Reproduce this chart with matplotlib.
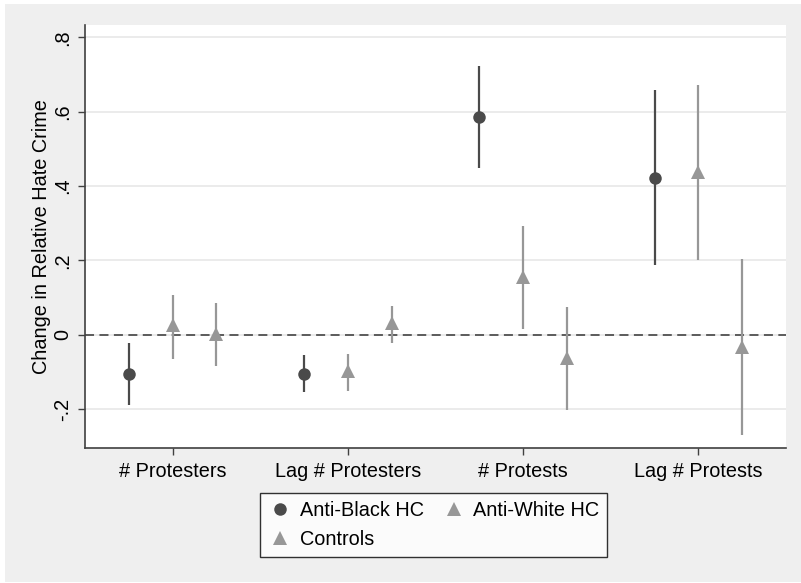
import numpy as np
import matplotlib
matplotlib.use('Agg')
import matplotlib.pyplot as plt
from matplotlib.patches import Rectangle

plt.rcParams['font.family'] = ['Liberation Sans', 'DejaVu Sans']

# categories on the x axis
categories = ['# Protesters', 'Lag # Protesters', '# Protests', 'Lag # Protests']

# point estimates and 95% CI bounds
black_est = [-0.107, -0.105, 0.586, 0.422]
black_lo = [-0.190, -0.155, 0.447, 0.187]
black_hi = [-0.022, -0.056, 0.724, 0.658]

white_est = [0.025, -0.099, 0.155, 0.438]
white_lo = [-0.065, -0.152, 0.014, 0.202]
white_hi = [0.106, -0.053, 0.292, 0.672]

ctrl_est = [0.003, 0.030, -0.062, -0.032]
ctrl_lo = [-0.085, -0.022, -0.202, -0.270]
ctrl_hi = [0.085, 0.076, 0.074, 0.203]

dark = '#4a4a4a'
light = '#979797'
fs = 14.3

fig = plt.figure(figsize=(8.01, 5.83), dpi=100)
fig.patch.set_facecolor('white')
# Stata-like gray outer region
fig.patches.append(Rectangle((5 / 801, 1 / 583), 1 - 5 / 801, 1 - 5 / 583,
                             transform=fig.transFigure, facecolor='#efefef',
                             edgecolor='none', zorder=-10))

ax = fig.add_axes([85 / 801, 1 - 448 / 583, 701 / 801, 423 / 583])
ax.set_facecolor('white')

x = np.arange(1, len(categories) + 1)


def draw(xpos, est, lo, hi, color, marker, ms, label):
    est = np.array(est)
    err = [est - np.array(lo), np.array(hi) - est]
    ax.errorbar(xpos, est, yerr=err, fmt='none', ecolor=color, elinewidth=1.6,
                capsize=0, zorder=3)
    h, = ax.plot(xpos, est, linestyle='none', marker=marker, color=color,
                 markersize=ms, markeredgewidth=0, zorder=4, label=label)
    return h


hb = draw(x - 0.25, black_est, black_lo, black_hi, dark, 'o', 9, 'Anti-Black HC')
hw = draw(x, white_est, white_lo, white_hi, light, '^', 10, 'Anti-White HC')
hc = draw(x + 0.25, ctrl_est, ctrl_lo, ctrl_hi, light, '^', 10, 'Controls')

ax.axhline(0, color='#505050', linestyle=(0, (5, 3)), linewidth=1.3, zorder=2)

ax.set_xlim(0.5, 4.5)
ax.set_ylim(-0.305, 0.833)
yt = [-0.2, 0, 0.2, 0.4, 0.6, 0.8]
ax.set_yticks(yt)
ax.set_yticklabels(['-.2', '0', '.2', '.4', '.6', '.8'], rotation=90, va='center')
ax.set_xticks(x)
ax.set_xticklabels(categories)
ax.tick_params(axis='both', labelsize=fs, color='#404040', length=5, width=1)
ax.tick_params(axis='y', pad=4)
ax.tick_params(axis='x', pad=5)
ax.grid(axis='y', color='#e8e8e8', linewidth=1.2, zorder=0)
ax.set_axisbelow(True)

for s in ['top', 'right']:
    ax.spines[s].set_visible(False)
for s in ['left', 'bottom']:
    ax.spines[s].set_color('#404040')
    ax.spines[s].set_linewidth(1.2)

ax.set_ylabel('Change in Relative Hate Crime', fontsize=fs, labelpad=2)

# column-first fill: order so that row 1 = Anti-Black, Anti-White
leg = ax.legend([hb, hc, hw], ['Anti-Black HC', 'Controls', 'Anti-White HC'],
                loc='upper left', bbox_to_anchor=(260 / 801, 1 - 493 / 583),
                bbox_transform=fig.transFigure, ncol=2, fontsize=fs,
                frameon=True, fancybox=False, edgecolor='black',
                handletextpad=0.4, columnspacing=0.9, borderpad=0.4,
                handlelength=1.2, labelspacing=0.5, borderaxespad=0)
leg.get_frame().set_linewidth(1.0)

fig.savefig('out.png', dpi=100, facecolor=fig.get_facecolor())
